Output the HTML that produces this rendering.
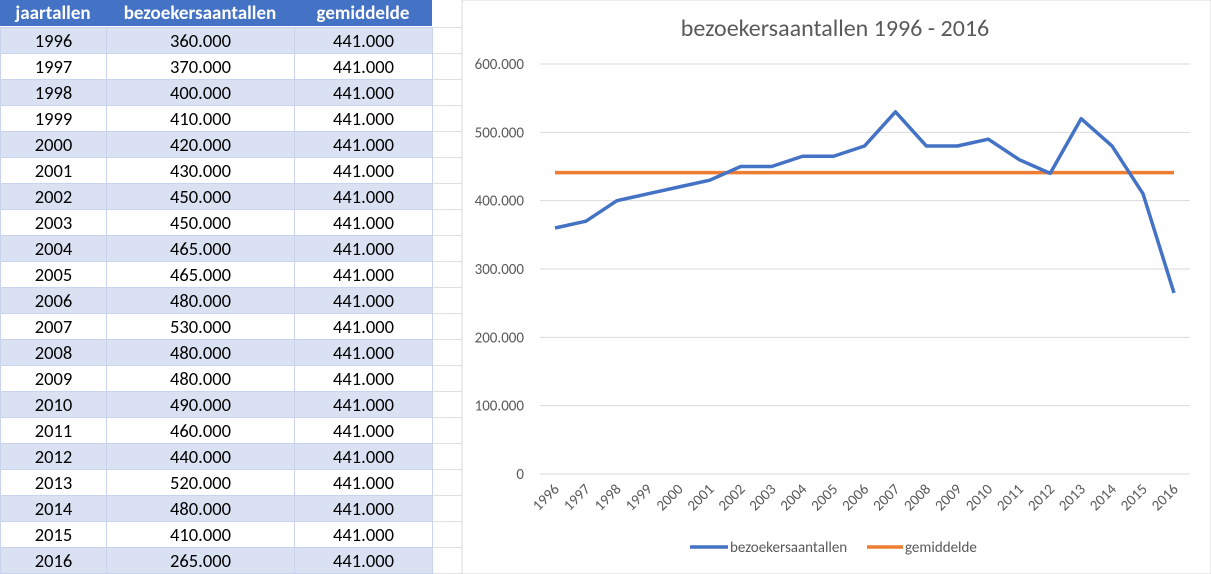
<!DOCTYPE html>
<html><head><meta charset="utf-8"><style>
body{margin:0;width:1211px;height:574px;overflow:hidden;background:#fff;font-family:Calibri,Carlito,"Liberation Sans",sans-serif;position:relative}
table{position:absolute;left:0;top:0;border-collapse:collapse;font-size:18.5px}
td{height:25px;padding:0;text-align:center;border:1px solid #c9d3ec;color:#000}
th{height:26px;background:#4472c4;color:#fff;font-size:19px;font-weight:bold;padding:0}
tr.a td{background:#d9e1f2}
</style></head><body>
<table>
<tr><th style="width:106px">jaartallen</th><th style="width:188px">bezoekersaantallen</th><th style="width:138px">gemiddelde</th><th style="width:30px;background:#fff"></th></tr>
</table>
<div id="t"></div>
<svg width="1211" height="574" style="position:absolute;left:0;top:0" id="s"></svg>
<script>
var v=[360,370,400,410,420,430,450,450,465,465,480,530,480,480,490,460,440,520,480,410,265];
var h='<table style="top:27px">';
for(var i=0;i<21;i++){h+='<tr class="'+(i%2==0?'a':'')+'"><td style="width:105px">'+(1996+i)+'</td><td style="width:187px">'+v[i]+'.000</td><td style="width:137px">441.000</td><td style="width:29px;background:#fff;border-color:#e0e0e0"></td></tr>';}
h+='</table>';
document.getElementById('t').innerHTML=h;
var F='font-family="Calibri,Carlito,Liberation Sans,sans-serif"';
var s='<rect x="462" y="0" width="749" height="574" fill="#fff" stroke="#d9d9d9"/>';
s+='<text x="835" y="36" font-size="24" fill="#595959" text-anchor="middle" '+F+'>bezoekersaantallen 1996 - 2016</text>';
var lab=['0','100.000','200.000','300.000','400.000','500.000','600.000'];
function Y(k){return 474-k/100*68.33;}
for(var j=0;j<7;j++){var y=Y(j*100);s+='<line x1="540" x2="1190" y1="'+y+'" y2="'+y+'" stroke="#d9d9d9"/>';s+='<text x="524" y="'+(y+5)+'" font-size="15" fill="#595959" text-anchor="end" '+F+'>'+lab[j]+'</text>';}
function X(i){return 555+i*30.95;}
var p='';for(i=0;i<21;i++){p+=X(i)+','+Y(v[i])+' ';
s+='<text transform="translate('+(X(i)+5)+',490) rotate(-45)" font-size="15" fill="#595959" text-anchor="end" '+F+'>'+(1996+i)+'</text>';}
s+='<line x1="555" x2="1174" y1="'+Y(441)+'" y2="'+Y(441)+'" stroke="#ed7d31" stroke-width="3.5"/>';
s+='<polyline points="'+p+'" fill="none" stroke="#4472c4" stroke-width="3.5" stroke-linejoin="round"/>';
s+='<line x1="690" x2="728" y1="547" y2="547" stroke="#4472c4" stroke-width="3.5"/><text x="730" y="552" font-size="15" fill="#595959" '+F+'>bezoekersaantallen</text>';
s+='<line x1="867" x2="903" y1="547" y2="547" stroke="#ed7d31" stroke-width="3.5"/><text x="905" y="552" font-size="15" fill="#595959" '+F+'>gemiddelde</text>';
document.getElementById('s').innerHTML=s;
</script>
</body></html>
